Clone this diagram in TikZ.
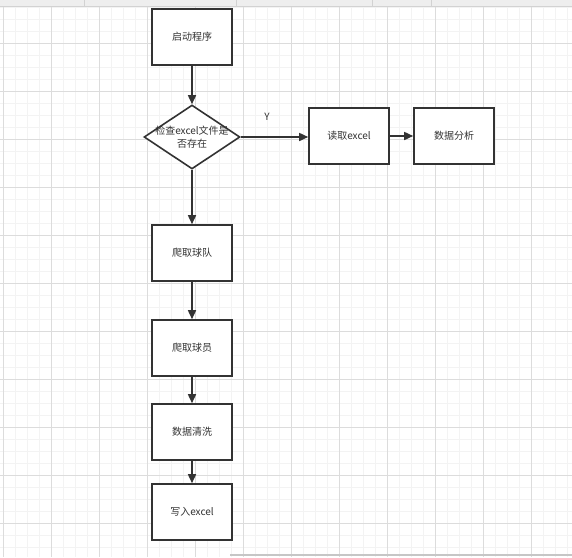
\documentclass[tikz,border=0pt]{standalone}
\usepackage{fontspec}
\newfontfamily\cjk{Noto Sans CJK SC}
\usepackage{tikz}
\usetikzlibrary{arrows.meta, shapes.geometric}
\definecolor{lineclr}{RGB}{51, 51, 51}
\definecolor{gridminor}{RGB}{243, 243, 243}
\definecolor{gridmajor}{RGB}{220, 220, 220}
\definecolor{barbg}{RGB}{238, 238, 238}

\begin{document}
\begin{tikzpicture}[
  x=1pt, y=-1pt,
  stepbox/.style={draw=lineclr, fill=white, line width=1.6pt,
                  minimum width=80pt, minimum height=56pt, inner sep=0pt,
                  font=\cjk\fontsize{10}{13}\selectfont, text=lineclr},
  check/.style={diamond, draw=lineclr, fill=white, line width=1.6pt,
                minimum width=96pt, minimum height=64pt, inner sep=0pt},
  flow/.style={draw=lineclr, line width=1.6pt,
               -{Triangle[length=9pt, width=8pt]}}
]
  \useasboundingbox (0,0) rectangle (572,557);
  \fill[white] (0,0) rectangle (572,557);

  % grid
  \foreach \gx in {3,15,...,572} \draw[gridminor, line width=0.7pt] (\gx,0) -- (\gx,557);
  \foreach \gy in {7,19,...,557} \draw[gridminor, line width=0.7pt] (0,\gy) -- (572,\gy);
  \foreach \gx in {3,51,...,572} \draw[gridmajor, line width=0.7pt] (\gx,0) -- (\gx,557);
  \foreach \gy in {43,91,...,557} \draw[gridmajor, line width=0.7pt] (0,\gy) -- (572,\gy);

  % toolbar edges
  \fill[barbg] (0,0) rectangle (572,6);
  \draw[gray!35] (0,6) -- (572,6);
  \foreach \sx in {84,236,372,431} \draw[gray!35] (\sx,0) -- (\sx,6);
  \draw[gray!45, line width=1.5pt] (230,555) -- (572,555);

  \node[stepbox] (start)  at (192, 37) {启动程序};
  \node[check, label={[font=\cjk\fontsize{10}{13}\selectfont, text=lineclr, align=center]center:检查excel文件是\\否存在}] (exists) at (192,137) {};
  \node[stepbox] (readx)  at (349,136) {读取excel};
  \node[stepbox] (anal)   at (454,136) {数据分析};
  \node[stepbox] (teams)  at (192,253) {爬取球队};
  \node[stepbox] (players) at (192,348) {爬取球员};
  \node[stepbox] (clean)  at (192,432) {数据清洗};
  \node[stepbox] (writex) at (192,512) {写入excel};

  \draw[flow] (start) -- (exists);
  \draw[flow] (exists) -- (exists.east -| readx.west);
  \draw[flow] (readx) -- (anal);
  \draw[flow] (exists) -- (teams);
  \draw[flow] (teams) -- (players);
  \draw[flow] (players) -- (clean);
  \draw[flow] (clean) -- (writex);

  \node[font=\cjk\fontsize{10}{12}\selectfont, text=lineclr] (yes) at (267,117) {Y};
\end{tikzpicture}
\end{document}
